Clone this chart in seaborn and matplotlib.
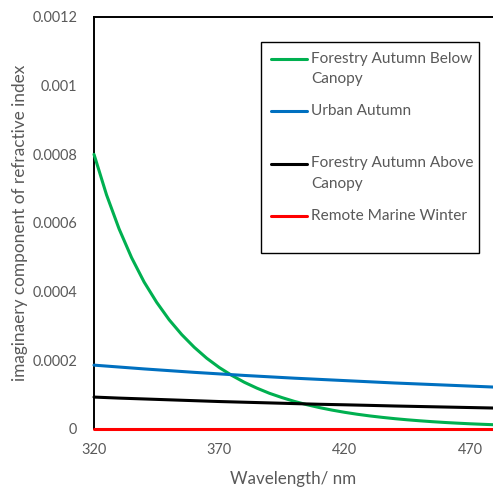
import numpy as np
import pandas as pd
import matplotlib
matplotlib.use("Agg")
import matplotlib.pyplot as plt
import matplotlib.lines as mlines
from matplotlib.legend_handler import HandlerLine2D
from matplotlib.ticker import FuncFormatter
import seaborn as sns

# ---- data ----
wavelength_fine = [320, 325, 330, 335, 340, 345, 350, 355, 360, 365, 370, 375, 380, 385, 390, 395,
                   400, 405, 410, 415, 420, 425, 430, 435, 440, 445, 450, 455, 460, 465, 470, 475, 480]
forestry_below = [0.000800, 0.000682, 0.000583, 0.000499, 0.000428, 0.000369, 0.000318, 0.000275,
                  0.000238, 0.000206, 0.000179, 0.000156, 0.000136, 0.000119, 0.000104, 0.0000915,
                  0.0000803, 0.0000707, 0.0000623, 0.0000550, 0.0000486, 0.0000430, 0.0000381,
                  0.0000339, 0.0000301, 0.0000268, 0.0000239, 0.0000213, 0.0000190, 0.0000170,
                  0.0000152, 0.0000137, 0.0000123]
wavelength = [320, 330, 340, 350, 360, 370, 380, 390, 400, 410, 420, 430, 440, 450, 460, 470, 480]
urban_autumn = [0.000186, 0.0001805, 0.000175, 0.000170, 0.000165, 0.0001605, 0.000156, 0.000152,
                0.000148, 0.0001445, 0.000141, 0.0001375, 0.000134, 0.000131, 0.000128, 0.000125,
                0.000122]
forestry_above = [0.000093, 0.000090, 0.0000875, 0.000085, 0.0000825, 0.000080, 0.000078, 0.000076,
                  0.000074, 0.000072, 0.0000705, 0.0000688, 0.000067, 0.0000655, 0.000064, 0.0000625,
                  0.000061]
remote_marine = [0.0] * len(wavelength)

series_names = ["Forestry Autumn Below Canopy", "Urban Autumn",
                "Forestry Autumn Above Canopy", "Remote Marine Winter"]
legend_labels = ["Forestry Autumn Below\nCanopy", "Urban Autumn\n ",
                 "Forestry Autumn Above\nCanopy", "Remote Marine Winter\n "]
series_colors = ["#00B050", "#0070C0", "#000000", "#FF0000"]
x_ticks = [320, 370, 420, 470]
y_ticks = [0, 0.0002, 0.0004, 0.0006, 0.0008, 0.001, 0.0012]

frames = [pd.DataFrame({"Wavelength": wavelength_fine, "value": forestry_below, "series": series_names[0]})]
for name, vals in zip(series_names[1:], [urban_autumn, forestry_above, remote_marine]):
    frames.append(pd.DataFrame({"Wavelength": wavelength, "value": vals, "series": name}))
df = pd.concat(frames, ignore_index=True)

# ---- style ----
sns.set_style("white")
plt.rcParams["font.family"] = ["Lato", "DejaVu Sans"]
gray = "#595959"

fig = plt.figure(figsize=(4.93, 4.91), dpi=100)
W, H = 493, 491
AX_L, AX_T, AX_B, AX_R = 94, 17, 429, 493
ax = fig.add_axes([AX_L / W, 1 - AX_B / H, (AX_R - AX_L) / W, (AX_B - AX_T) / H])
ax_w, ax_h = AX_R - AX_L, AX_B - AX_T

sns.lineplot(data=df, x="Wavelength", y="value", hue="series", hue_order=series_names,
             palette=series_colors, linewidth=2.2, ax=ax, sort=False)
for ln in ax.lines:
    ln.set_zorder(3)
    ln.set_clip_on(False)
    ln.set_solid_joinstyle("round")

ax.set_xlim(320, 479.2)
ax.set_ylim(0, 0.0012)
ax.set_xticks(x_ticks)
ax.set_yticks(y_ticks)
ax.yaxis.set_major_formatter(FuncFormatter(lambda v, p: "0" if v == 0 else "{:g}".format(round(v, 6))))
ax.tick_params(axis="both", length=0, labelsize=11.5, labelcolor=gray)
ax.tick_params(axis="y", pad=12)
ax.tick_params(axis="x", pad=10)

ax.set_xlabel("Wavelength/ nm", fontsize=12, color=gray)
ax.set_ylabel("imaginaery component of refractive index", fontsize=11, color=gray)

for side in ["left", "top", "bottom"]:
    ax.spines[side].set_visible(True)
    ax.spines[side].set_color("black")
    ax.spines[side].set_linewidth(1.4)
ax.spines["right"].set_visible(False)


class TopAligned(HandlerLine2D):
    def __init__(self, shift, **kw):
        super().__init__(**kw)
        self.shift = shift

    def create_artists(self, legend, orig_handle, xdescent, ydescent, width, height, fontsize, trans):
        arts = super().create_artists(legend, orig_handle, xdescent, ydescent, width, height, fontsize, trans)
        for a in arts:
            a.set_ydata(np.asarray(a.get_ydata(), dtype=float) + self.shift)
        return arts


# fit text sizes to the reference's measured extents
fig.canvas.draw()
r = fig.canvas.get_renderer()
yl = ax.yaxis.label
yl.set_fontsize(yl.get_fontsize() * 315 / yl.get_window_extent(r).height)
xl = ax.xaxis.label
xl.set_fontsize(xl.get_fontsize() * 126 / xl.get_window_extent(r).width)
tl = ax.get_yticklabels()[-1]
tick_fs = 11.5 * 46 / tl.get_window_extent(r).width
ax.tick_params(axis="both", labelsize=tick_fs)

probe = fig.text(0, 0, "Forestry Autumn Below", fontsize=11)
leg_fs = 11 * 161 / probe.get_window_extent(r).width
probe.remove()

ax.yaxis.set_label_coords((28 - AX_L) / ax_w, 0.5)
ax.xaxis.set_label_coords(0.5, -(471 - AX_B) / ax_h)

handles, labels = ax.get_legend_handles_labels()
leg = ax.legend(handles, legend_labels, loc="upper left",
                bbox_to_anchor=(261 / W, 1 - 249 / H, 218 / W, 207 / H), bbox_transform=fig.transFigure,
                mode="expand", borderaxespad=0, fontsize=leg_fs, frameon=True, fancybox=False,
                shadow=False, handlelength=2.4 * 11 / leg_fs, handletextpad=0.25, labelspacing=1.2,
                borderpad=0.62, handler_map={mlines.Line2D: TopAligned(7.3)})
leg.get_frame().set_edgecolor("black")
leg.get_frame().set_linewidth(1.0)
leg.get_frame().set_alpha(1)
for t in leg.get_texts():
    t.set_color(gray)
    t.set_linespacing(1.55)
for l in leg.get_lines():
    l.set_linewidth(2.2)

fig.savefig("out.png", dpi=100)
